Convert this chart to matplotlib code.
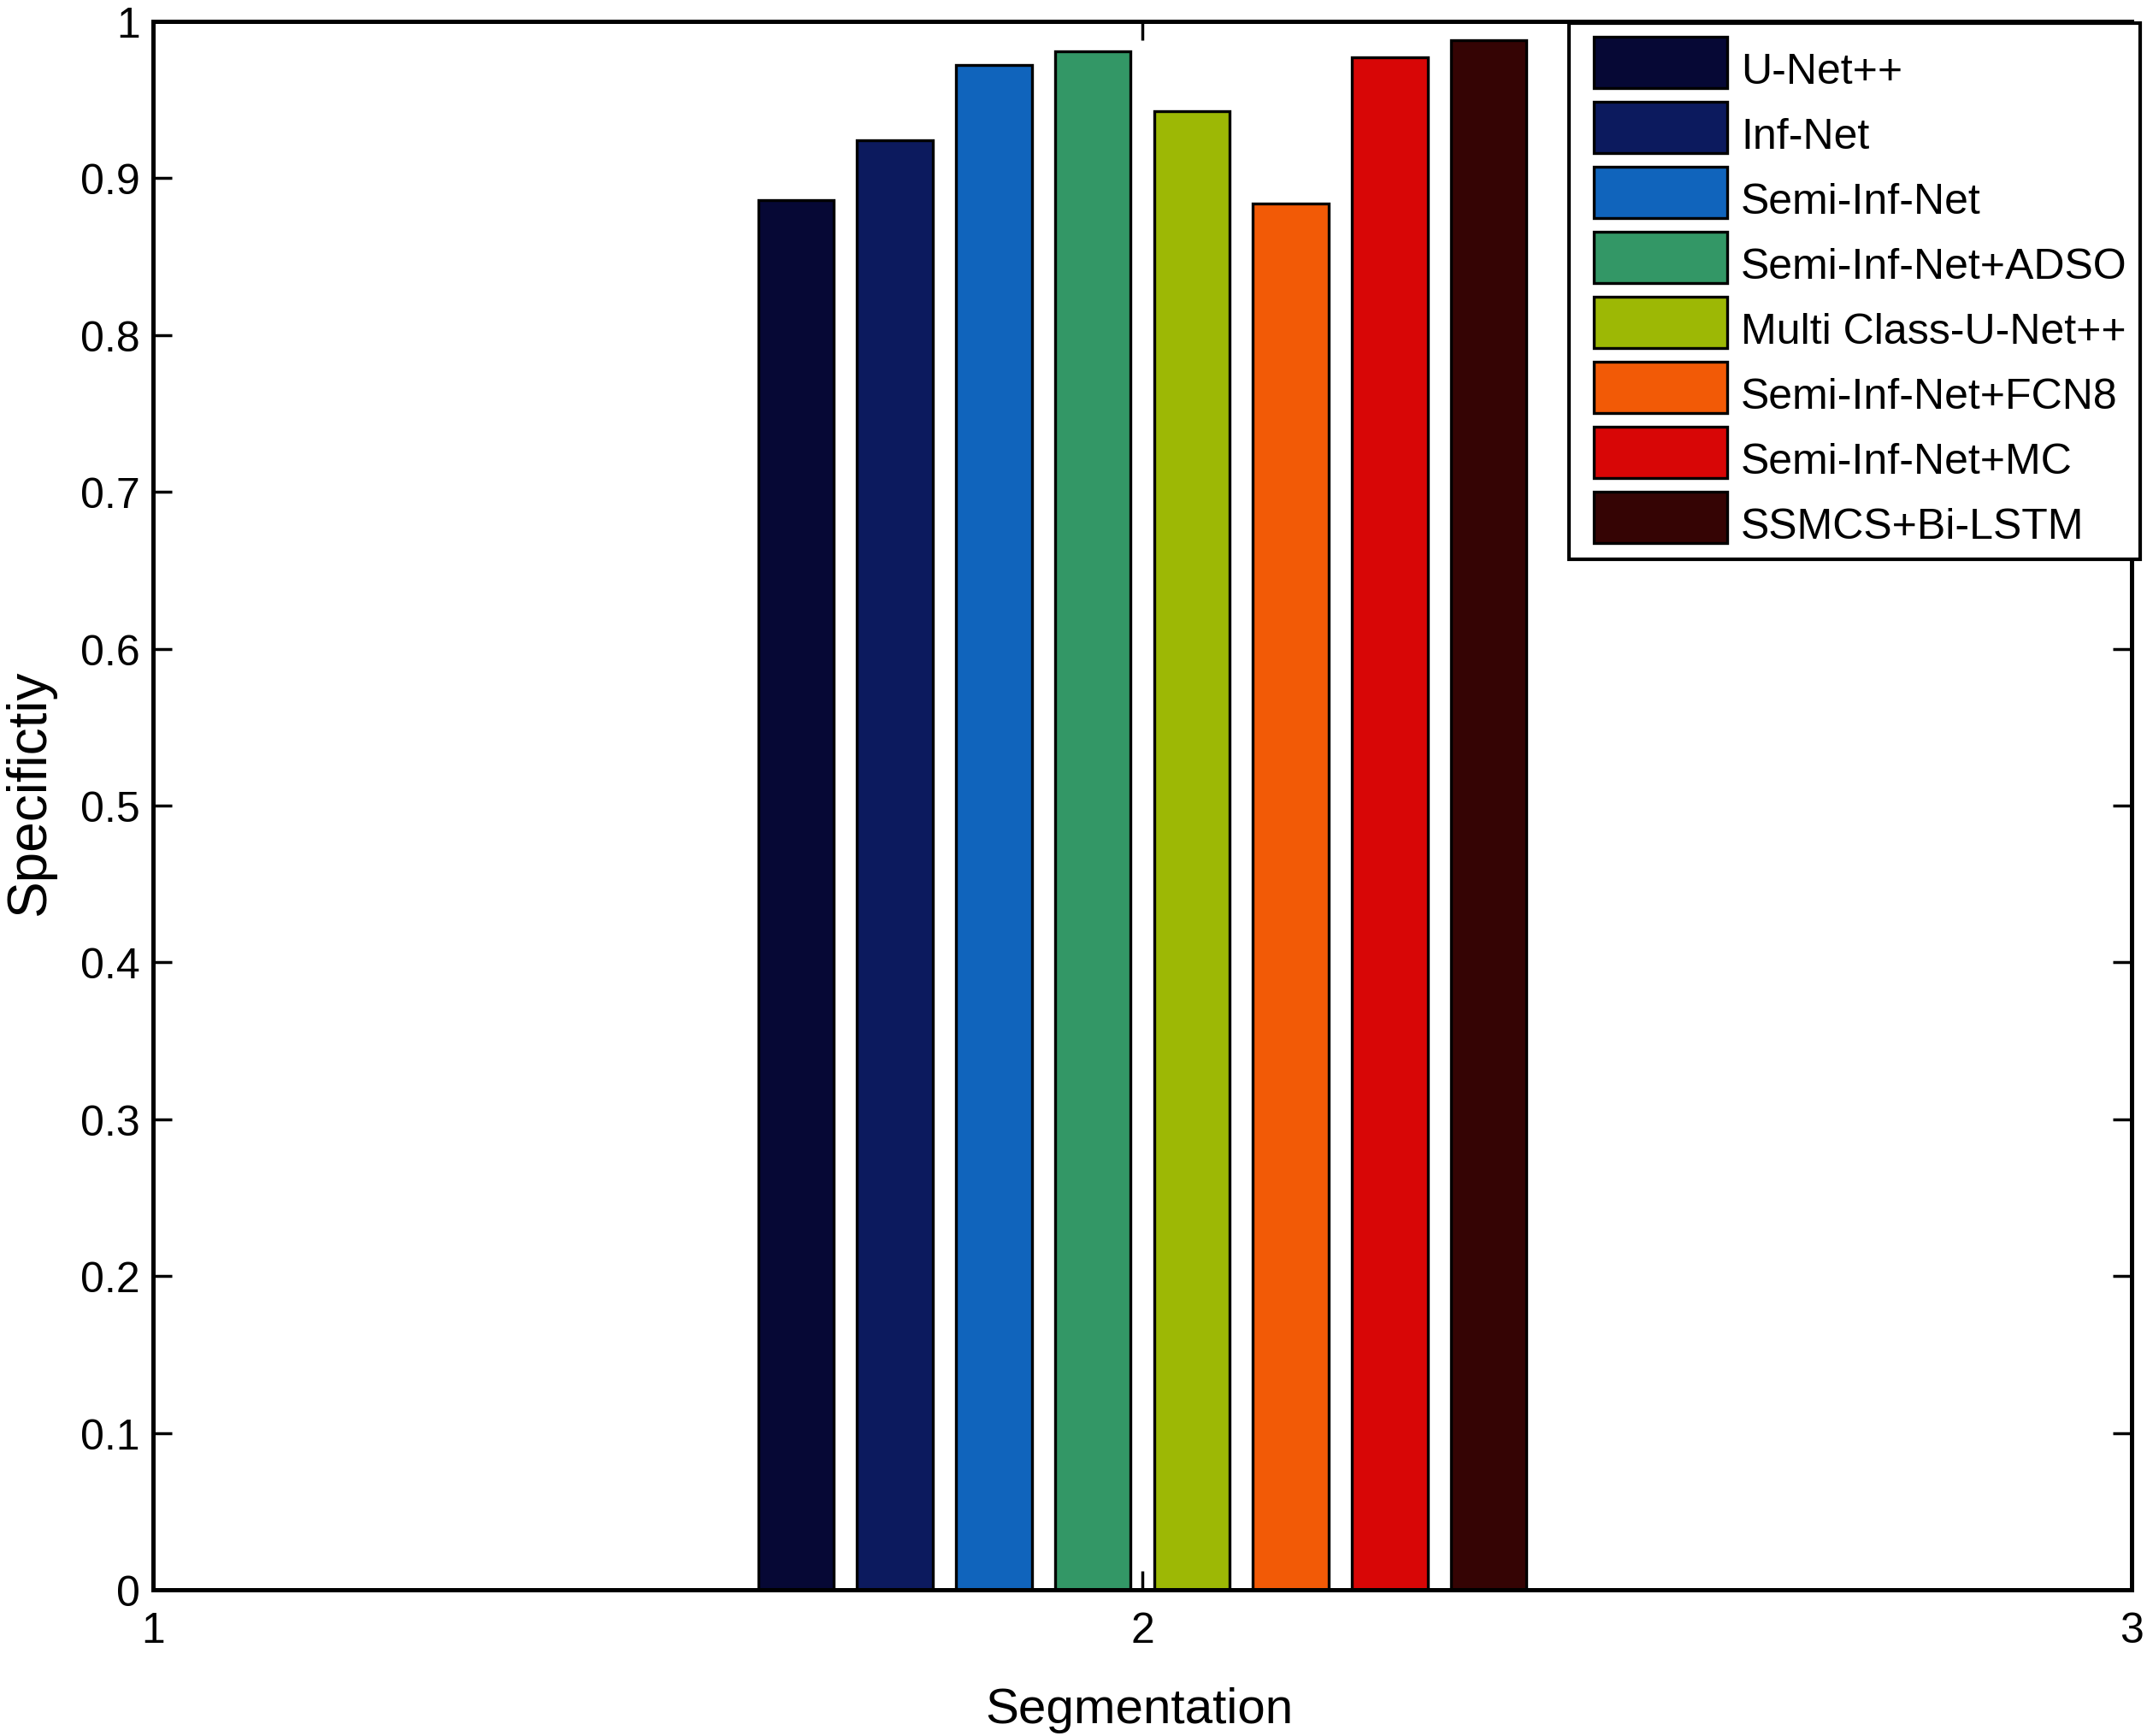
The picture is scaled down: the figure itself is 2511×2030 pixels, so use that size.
import matplotlib
matplotlib.use("Agg")
import matplotlib.pyplot as plt
from matplotlib.patches import Rectangle
from matplotlib.container import BarContainer
from matplotlib.legend_handler import HandlerPatch, update_from_first_child
from matplotlib.offsetbox import DrawingArea
import numpy as np

plt.rcParams['font.family'] = ['Liberation Sans', 'DejaVu Sans']

# data
methods = ["U-Net++", "Inf-Net", "Semi-Inf-Net", "Semi-Inf-Net+ADSO",
           "Multi Class-U-Net++", "Semi-Inf-Net+FCN8", "Semi-Inf-Net+MC",
           "SSMCS+Bi-LSTM"]
specificity = [0.886, 0.924, 0.972, 0.981, 0.943, 0.884, 0.977, 0.988]
colors = ["#060835", "#0c1a5e", "#1064bc", "#339766",
          "#9db805", "#f25a06", "#d80606", "#350404"]
group_x = 2
xticks = [1, 2, 3]
yticks = [0, 0.1, 0.2, 0.3, 0.4, 0.5, 0.6, 0.7, 0.8, 0.9, 1]
ytick_labels = ["0", "0.1", "0.2", "0.3", "0.4", "0.5", "0.6", "0.7", "0.8", "0.9", "1"]

W, H = 2511, 2031
fig = plt.figure(figsize=(W / 100, H / 100), dpi=100)
ax = fig.add_axes([179 / W, 1 - 1860 / H, (2493 - 179) / W, (1860 - 26) / H])

n = len(methods)
step = 0.1
bar_w = 0.0765
for i in range(n):
    xpos = group_x + (i - (n - 1) / 2) * step
    ax.bar(xpos, specificity[i], width=bar_w, color=colors[i],
           edgecolor='black', linewidth=2.4, label=methods[i], zorder=1)

ax.set_xlim(1, 3)
ax.set_ylim(0, 1)
ax.set_xticks(xticks)
ax.set_xticklabels([str(t) for t in xticks])
ax.set_yticks(yticks)
ax.set_yticklabels(ytick_labels)

ax.tick_params(axis='both', direction='in', length=15.8, width=2.5,
               labelsize=36, top=True, right=True)
ax.tick_params(axis='x', pad=18)
ax.tick_params(axis='y', pad=11)
for sp in ax.spines.values():
    sp.set_linewidth(3.6)

ax.set_xlabel('Segmentation', fontsize=42)
ax.set_ylabel('Specifictiy', fontsize=46)
ax.xaxis.set_label_coords(0.4983, -0.0616)
ax.yaxis.set_label_coords(-0.0493, 0.5087)

LEG_FS = 36


# legend swatch, placed relative to the text baseline (y=0)
def swatch(legend, orig_handle, xdescent, ydescent, width, height, fontsize):
    return Rectangle((-xdescent + 0.28 * fontsize, -0.12 * fontsize),
                     3.12 * fontsize, 1.2 * fontsize)


leg = ax.legend(loc='upper left', bbox_to_anchor=(1835 / W, 1 - 28 / H),
                bbox_transform=fig.transFigure, borderaxespad=0,
                fontsize=LEG_FS, handlelength=3.4, handleheight=1.2,
                handletextpad=0.32, labelspacing=0.22, borderpad=0.3,
                fancybox=False, framealpha=1, edgecolor='black',
                handler_map={BarContainer: HandlerPatch(
                    patch_func=swatch, update_func=update_from_first_child)})
leg.get_frame().set_linewidth(3)

# make each handle box tall enough to hold the swatch
for da in leg.findobj(DrawingArea):
    da.ydescent = 0.12 * LEG_FS
    da.height = 1.22 * LEG_FS

fig.savefig('out.png', dpi=100)
